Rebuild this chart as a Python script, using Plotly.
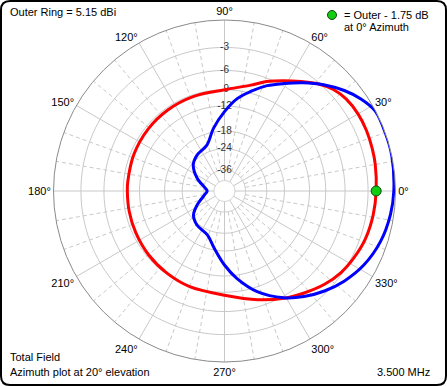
import plotly.graph_objects as go
import numpy as np

W, H = 447, 386

# ---- data (azimuth deg, dB relative to outer ring) ----
red_theta = [0, 10, 16, 23, 30, 37, 43, 49, 55, 62, 69, 76, 90, 108, 125, 141, 158,
             174, 180, 192, 205, 220, 235, 250, 270, 287, 299, 308, 317, 325, 333, 341, 351]
red_db = [-2.06, -1.9, -1.83, -1.76, -1.78, -1.96, -2.38, -3.18, -4.23, -5.38, -6.47,
          -7.71, -9.0, -9.3, -9.4, -9.5, -9.6, -9.7, -9.7, -9.65, -9.55, -9.35,
          -9.15, -8.9, -8.5, -7.0, -5.70, -4.78, -3.83, -3.16, -2.74, -2.39, -2.18]

blue_theta = [0, 12, 20, 28, 34, 40, 47, 54, 61, 68, 75, 82, 90, 100, 111, 127, 140,
              155, 172, 180, 188, 207, 218, 231, 249, 260, 270, 278, 288, 299, 307, 315,
              323, 332, 342, 352]
blue_db = [-0.17, 0.0, 0.0, -0.04, -0.66, -1.54, -2.80, -4.22, -5.67, -7.01, -8.64,
           -10.35, -13.18, -16.98, -21.4, -22.8, -24.6, -29.8, -37.5, -39.3, -37.5,
           -29.5, -25.2, -23.4, -22.06, -18.46, -14.38, -11.36, -8.24, -5.79, -4.43,
           -3.26, -2.27, -1.38, -0.72, -0.34]

ring_db = [-3, -6, -9, -12, -18, -24, -36]
inner_ring_db = -48
angle_ticks = list(range(0, 360, 30))
angle_labels = [f"{a}°" for a in angle_ticks]

marker_db = -1.75  # reported value for the legend text


def arrl(db):
    return 0.89 ** (-np.asarray(db, dtype=float) / 2.0)


fig = go.Figure()
grid_col = "#c8c8c8"

# rings
circ = np.arange(0, 361, 2)
for d in ring_db + [inner_ring_db]:
    fig.add_trace(go.Scatterpolar(theta=circ, r=np.full(circ.shape, float(arrl(d))),
                                  mode="lines", line=dict(color=grid_col, width=1),
                                  hoverinfo="skip", showlegend=False))

# radial spokes
rin_solid = float(arrl(inner_ring_db))
rin_dash = float(arrl(-36))
th_s, r_s, th_d, r_d = [], [], [], []
for a in range(0, 360, 10):
    if a % 30 == 0:
        th_s += [a, a, None]
        r_s += [rin_solid, 1.0, None]
    else:
        th_d += [a, a, None]
        r_d += [rin_dash, 1.0, None]
fig.add_trace(go.Scatterpolar(theta=th_d, r=r_d, mode="lines",
                              line=dict(color=grid_col, width=1, dash="4px,3px"),
                              hoverinfo="skip", showlegend=False, connectgaps=False))
fig.add_trace(go.Scatterpolar(theta=th_s, r=r_s, mode="lines",
                              line=dict(color=grid_col, width=1),
                              hoverinfo="skip", showlegend=False, connectgaps=False))

# radial labels along 90 deg
fig.add_trace(go.Scatterpolar(theta=[90] * len(ring_db), r=arrl(ring_db),
                              mode="text", text=[str(d) for d in ring_db],
                              textfont=dict(family="Liberation Sans, Arial", size=10, color="#333"),
                              textposition="middle center", hoverinfo="skip", showlegend=False))

# pattern traces
fig.add_trace(go.Scatterpolar(theta=red_theta + [red_theta[0] + 360], r=arrl(red_db + [red_db[0]]),
                              mode="lines", line=dict(color="#ff0000", width=3, shape="spline", smoothing=1.0),
                              showlegend=False, name="Outer"))
fig.add_trace(go.Scatterpolar(theta=blue_theta + [blue_theta[0] + 360], r=arrl(blue_db + [blue_db[0]]),
                              mode="lines", line=dict(color="#0000ff", width=3, shape="spline", smoothing=1.0),
                              showlegend=False))

# green marker at 0 deg on red trace
fig.add_trace(go.Scatterpolar(theta=[red_theta[0]], r=arrl([red_db[0]]), mode="markers",
                              marker=dict(color="#11cc11", size=10, line=dict(color="#0a4a0a", width=1)),
                              showlegend=False))

cx, cy, R = 224.5, 191, 171
fig.update_layout(
    width=W, height=H,
    margin=dict(l=0, r=0, t=0, b=0),
    paper_bgcolor="white",
    font=dict(family="Liberation Sans, Arial", size=11, color="#000"),
    polar=dict(
        domain=dict(x=[(cx - R) / W, (cx + R) / W], y=[(H - cy - R) / H, (H - cy + R) / H]),
        bgcolor="white",
        radialaxis=dict(visible=False, range=[0, 1]),
        angularaxis=dict(tickmode="array", tickvals=angle_ticks, ticktext=angle_labels,
                         showgrid=False, showline=True, linecolor="#8a8a8a", linewidth=1,
                         ticks="", rotation=0, direction="counterclockwise",
                         tickfont=dict(family="Liberation Sans, Arial", size=11, color="#000")),
    ),
)


def px(x):
    return x / W


def py(y):
    return 1 - y / H


def ann(text, x, y, anchor="left"):
    fig.add_annotation(text=text, x=px(x), y=py(y), xref="paper", yref="paper",
                       xanchor=anchor, yanchor="middle", showarrow=False,
                       font=dict(family="Liberation Sans, Arial", size=11, color="#000"))


ann("Outer Ring = 5.15 dBi", 8, 12)
ann(f"= Outer - {abs(marker_db):.2f} dB", 342, 15)
ann("at 0° Azimuth", 342, 27)
ann("Total Field", 8, 357)
ann("Azimuth plot at 20° elevation", 8, 372)
ann("3.500 MHz", 432, 372, anchor="right")

# legend dot
fig.add_shape(type="circle", xref="paper", yref="paper",
              x0=px(327.5), x1=px(336.5), y0=py(19.5), y1=py(10.5),
              fillcolor="#11cc11", line=dict(color="#0a4a0a", width=1))

# rounded border
x0, y0, x1, y1, rc = 1, 1, 446, 385, 9
path = (f"M {px(x0 + rc)},{py(y0)} L {px(x1 - rc)},{py(y0)} Q {px(x1)},{py(y0)} {px(x1)},{py(y0 + rc)} "
        f"L {px(x1)},{py(y1 - rc)} Q {px(x1)},{py(y1)} {px(x1 - rc)},{py(y1)} "
        f"L {px(x0 + rc)},{py(y1)} Q {px(x0)},{py(y1)} {px(x0)},{py(y1 - rc)} "
        f"L {px(x0)},{py(y0 + rc)} Q {px(x0)},{py(y0)} {px(x0 + rc)},{py(y0)} Z")
fig.add_shape(type="path", xref="paper", yref="paper", path=path,
              line=dict(color="#000", width=2))

fig.write_html("out.html", config={"displayModeBar": False},
               post_script="document.body.style.margin='0';document.body.style.overflow='hidden';")
